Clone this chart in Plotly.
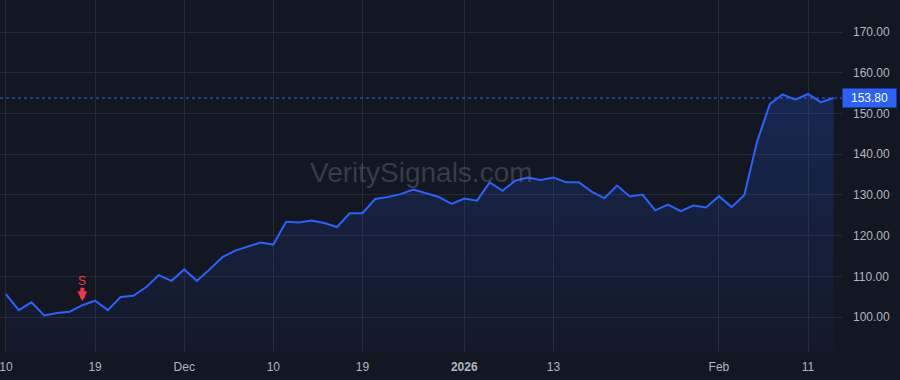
import plotly.graph_objects as go

dates = [
    "2025-11-10", "2025-11-11", "2025-11-12", "2025-11-13", "2025-11-14",
    "2025-11-17", "2025-11-18", "2025-11-19", "2025-11-20", "2025-11-21",
    "2025-11-24", "2025-11-25", "2025-11-26", "2025-11-28",
    "2025-12-01", "2025-12-02", "2025-12-03", "2025-12-04", "2025-12-05",
    "2025-12-08", "2025-12-09", "2025-12-10", "2025-12-11", "2025-12-12",
    "2025-12-15", "2025-12-16", "2025-12-17", "2025-12-18", "2025-12-19",
    "2025-12-22", "2025-12-23", "2025-12-24", "2025-12-26", "2025-12-29",
    "2025-12-30", "2025-12-31",
    "2026-01-02", "2026-01-05", "2026-01-06", "2026-01-07", "2026-01-08",
    "2026-01-09", "2026-01-12", "2026-01-13", "2026-01-14", "2026-01-15",
    "2026-01-16", "2026-01-20", "2026-01-21", "2026-01-22", "2026-01-23",
    "2026-01-26", "2026-01-27", "2026-01-28", "2026-01-29", "2026-01-30",
    "2026-02-02", "2026-02-03", "2026-02-04", "2026-02-05", "2026-02-06",
    "2026-02-09", "2026-02-10", "2026-02-11", "2026-02-12", "2026-02-13",
]

prices = [
    105.6, 101.7, 103.6, 100.4, 101.0, 101.3, 102.9, 104.0, 101.7, 104.9,
    105.2, 107.3, 110.3, 108.9, 111.7, 108.9, 111.7, 114.7, 116.3, 117.3,
    118.3, 117.8, 123.4, 123.2, 123.7, 123.1, 122.1, 125.5, 125.5, 129.0,
    129.5, 130.2, 131.3, 130.4, 129.5, 127.8, 129.1, 128.6, 133.1, 131.0,
    133.5, 134.3, 133.7, 134.3, 133.1, 133.1, 130.8, 129.2, 132.3, 129.6,
    130.1, 126.2, 127.6, 126.0, 127.4, 126.9, 129.7, 127.0, 130.0, 143.1,
    152.3, 154.7, 153.4, 154.8, 152.8, 153.8,
]

x_tick_dates = ["2025-11-10", "2025-11-19", "2025-12-01", "2025-12-10", "2025-12-19",
                "2026-01-02", "2026-01-13", "2026-02-02", "2026-02-11"]
x_tick_text = ["10", "19", "Dec", "10", "19", "<b>2026</b>", "13", "Feb", "11"]

y_tick_vals = [100, 110, 120, 130, 140, 150, 160, 170]
y_tick_text = ["100.00", "110.00", "120.00", "130.00", "140.00", "150.00", "160.00", "170.00"]

last_price = 153.80
signal_date = "2025-11-18"
signal_price = 102.9
signal_label = "S"
watermark = "VeritySignals.com"

BG = "#131722"
GRID = "#262a35"
BLUE = "#2962ff"
RED = "#f23645"
TXT = "#b2b5be"
FONT = "Liberation Sans, Arial, sans-serif"

fig = go.Figure()
fig.add_trace(go.Scatter(
    x=dates, y=prices, mode="lines",
    line=dict(color=BLUE, width=2),
    fill="tozeroy",
    fillgradient=dict(type="vertical", start=91.4, stop=156,
                      colorscale=[[0, "rgba(41,98,255,0.03)"], [1, "rgba(41,98,255,0.22)"]]),
    hoverinfo="skip", showlegend=False,
))

fig.add_shape(type="line", xref="paper", x0=0, x1=1, yref="y", y0=last_price, y1=last_price,
              line=dict(color=BLUE, width=1, dash="dot"))

fig.add_annotation(xref="paper", x=1, yref="y", y=last_price, xanchor="left", yanchor="middle",
                   text=f"{last_price:.2f}", showarrow=False, bgcolor=BLUE,
                   font=dict(color="#ffffff", size=12, family=FONT), borderpad=2, width=49)

# signal arrow (no text) + signal label
fig.add_annotation(x=signal_date, y=signal_price, text="", showarrow=True,
                   ax=0, ay=-19, arrowhead=2, arrowsize=0.5, arrowwidth=4, arrowcolor=RED,
                   standoff=4, font=dict(size=1))
fig.add_annotation(x=signal_date, y=signal_price, text=signal_label, showarrow=False,
                   yshift=24, font=dict(color=RED, size=12, family=FONT))

fig.add_annotation(xref="paper", yref="paper", x=0.5, y=0.51, text=watermark, showarrow=False,
                   font=dict(color="rgba(120,124,136,0.38)", size=28, family=FONT))

fig.update_layout(
    width=900, height=380,
    margin=dict(l=0, r=58, t=0, b=28),
    paper_bgcolor=BG, plot_bgcolor=BG,
    hovermode=False,
    font=dict(family=FONT, color=TXT, size=12),
    xaxis=dict(type="category", range=[-0.47, 65.67], tickvals=x_tick_dates, ticktext=x_tick_text,
               showgrid=True, gridcolor=GRID, gridwidth=1, zeroline=False, showline=False,
               ticks="", ticklabelstandoff=6, tickfont=dict(size=12, color=TXT)),
    yaxis=dict(side="right", range=[91.4, 177.9], tickvals=y_tick_vals, ticktext=y_tick_text,
               showgrid=True, gridcolor=GRID, gridwidth=1, zeroline=False, showline=False,
               ticks="", ticklabelstandoff=10, tickfont=dict(size=12, color=TXT)),
)

fig.write_html("out.html")
